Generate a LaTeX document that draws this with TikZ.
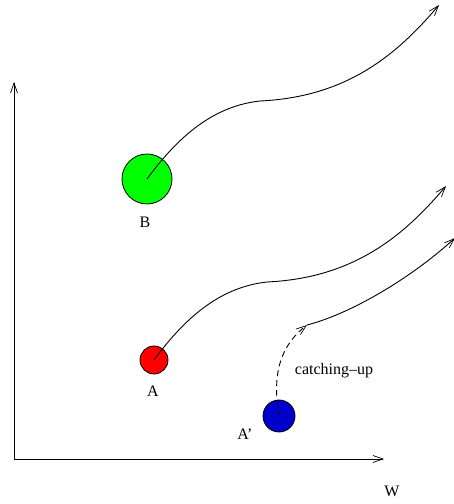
\documentclass[tikz,border=0pt]{standalone}
\usepackage{fontspec}
\setmainfont{Liberation Serif}
\usetikzlibrary{arrows.meta}
\begin{document}
\begin{tikzpicture}[x=1pt,y=1pt,
  line width=0.9pt,
  arr/.style={-{Straight Barb[length=10pt,width=7pt,line width=0.7pt]}},
  ball/.style={circle,draw=black,line width=0.8pt,inner sep=0pt,minimum size=#1},
  lbl/.style={font=\fontsize{16}{19}\selectfont,inner sep=0pt}]
\useasboundingbox (0,0) rectangle (454,504);
% axes
\coordinate (O) at (14,45);
\coordinate (Ytop) at (14,422);
\coordinate (Xend) at (384,45);
\draw[arr] (O) -- (Ytop);
\draw[arr] (O) -- (Xend);
\node[lbl] (W) at (392,13) {W};
% balls
\node[ball=50pt,fill={rgb,255:red,0;green,255;blue,0}] (B) at (147,325) {};
\node[ball=28pt,fill={rgb,255:red,255;green,0;blue,0}] (A) at (154,144) {};
\node[ball=32pt,fill={rgb,255:red,0;green,0;blue,205}] (Ap) at (279,88) {};
\node[lbl] (Bl) at (145,282) {B};
\node[lbl] (Al) at (153,113) {A};
\node[lbl] (Apl) at (245,70) {A'};
\node[lbl] (cu) at (334,133) {catching--up};
% trajectories
\coordinate (Bend) at (439,499);
\coordinate (Aend) at (446,318);
\coordinate (Q) at (307,179);
\coordinate (Qend) at (455,266);
\draw[arr] (B.center) .. controls (180,370) and (215,398) .. (260,403)
  .. controls (345,407) and (395,447) .. (Bend);
\draw[arr] (A.center) .. controls (187,189) and (222,217) .. (267,222)
  .. controls (352,226) and (402,266) .. (Aend);
\draw[arr,dashed,dash pattern=on 6pt off 4pt] (Ap.center) .. controls (272,130) and (280,158) .. (Q);
\draw[arr] (Q) .. controls (350,190) and (410,225) .. (Qend);
\end{tikzpicture}
\end{document}
